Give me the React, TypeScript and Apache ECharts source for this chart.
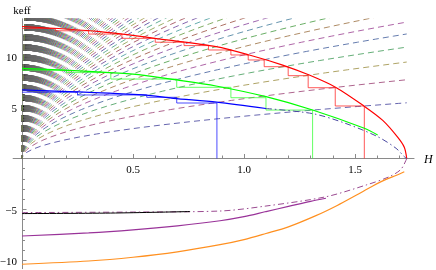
import React, { useEffect, useRef } from 'react';
import * as echarts from 'echarts';

// ---------- axes ----------
const H_MIN = -0.04;
const H_MAX = 1.766;
const K_MIN = -10.8;
const K_MAX = 13.7;
const xMajorTicks = [0.5, 1.0, 1.5];
const xMinorTicks = [0.1, 0.2, 0.3, 0.4, 0.6, 0.7, 0.8, 0.9, 1.1, 1.2, 1.3, 1.4, 1.6, 1.7];
const yMajorTicks = [-10, -5, 5, 10];
const yMinorTicks = [-9, -8, -7, -6, -4, -3, -2, -1, 1, 2, 3, 4, 6, 7, 8, 9, 11, 12, 13];

// ---------- main curves [H, keff] ----------
const redCurve = [
  [0, 12.94], [0.351, 12.44], [0.652, 11.63], [0.874, 10.97], [1.024, 10.15], [1.174, 9.16],
  [1.294, 8.18], [1.414, 6.97], [1.542, 5.12], [1.625, 3.74], [1.692, 2.1], [1.722, 1.11], [1.733, 0],
];
const greenCurve = [
  [0, 8.84], [0.5, 8.28], [0.697, 7.7], [0.874, 7.11], [1.099, 6.06], [1.309, 4.75], [1.542, 2.96], [1.602, 2.3],
];
const blueCurve = [
  [0, 6.72], [0.546, 6.23], [0.682, 5.9], [0.877, 5.52], [1.099, 4.9],
];
const navyDashDot = [
  [1.099, 4.9], [1.309, 4.4], [1.45, 3.5], [1.602, 2.14], [1.685, 1.0], [1.722, 0.18], [1.733, 0],
];
const purpleDashDot = [
  [0, -5.3], [0.5, -5.25], [0.892, -5.15], [1.099, -4.66], [1.369, -3.75], [1.55, -2.6], [1.655, -1.78],
  [1.707, -1.06], [1.733, 0],
];
const purpleCurve = [
  [0, -7.6], [0.3, -7.3], [0.5, -7.0], [0.7, -6.6], [0.892, -6.1], [1.0, -5.7], [1.099, -5.2], [1.2, -4.7],
  [1.3, -4.2], [1.369, -3.9],
];
const blackCurve = [
  [0, -5.4], [0.4, -5.35], [0.757, -5.2],
];
const orangeCurve = [
  [0, -10.37], [0.3, -10.05], [0.5, -9.68], [0.7, -9.15], [0.892, -8.45], [1.0, -7.95], [1.099, -7.35],
  [1.2, -6.7], [1.324, -5.6], [1.42, -4.6], [1.505, -3.6], [1.58, -2.7], [1.64, -2.05], [1.69, -1.62],
  [1.722, -1.3],
];

// ---------- staircases: right end H of each tread, tread height ----------
const redStepH = [0.15, 0.3, 0.45, 0.6, 0.73, 0.84, 0.941, 1.019, 1.091, 1.199, 1.289, 1.411, 1.542];
const redStepK = [12.75, 12.52, 12.2, 11.78, 11.4, 11.07, 10.64, 10.15, 9.66, 9.0, 8.12, 6.94, 5.15];
const greenStepH = [0.2, 0.4, 0.697, 0.941, 1.099, 1.309];
const greenStepK = [8.65, 8.42, 7.79, 6.98, 5.96, 4.75];
const blueStepH = [0.25, 0.562, 0.697, 0.878];
const blueStepK = [6.5, 6.23, 6.0, 5.44];

// ---------- dashed family keff = sqrt(slope * n * H), n = 1..count ----------
const familyCount = 800;
const familySlope = 17.2;   // read from right-edge ends: keff^2 ≈ 29.8 n at H = 1.733
const familyEndH = 1.733;

function hsv(h: number, s: number, v: number) {
  const i = Math.floor(h * 6);
  const f = h * 6 - i;
  const p = v * (1 - s), q = v * (1 - f * s), t = v * (1 - (1 - f) * s);
  const m = [[v, t, p], [q, v, p], [p, v, t], [p, q, v], [t, p, v], [v, p, q]][i % 6];
  return `rgb(${Math.round(m[0] * 255)},${Math.round(m[1] * 255)},${Math.round(m[2] * 255)})`;
}

function stairs(hs: number[], ks: number[]) {
  const pts: number[][] = [[0, ks[0]]];
  for (let i = 0; i < hs.length; i++) {
    pts.push([hs[i], ks[i]]);
    pts.push([hs[i], i + 1 < ks.length ? ks[i + 1] : 0]);
  }
  return pts;
}

function buildFamily() {
  const out: any[] = [];
  for (let n = 1; n <= familyCount; n++) {
    const kn = familySlope * n;
    const kEnd = Math.min(Math.sqrt(kn * familyEndH), K_MAX + 0.3);
    const data: number[][] = [];
    for (let k = 0; k < kEnd; k += 0.3) data.push([(k * k) / kn, k]);
    data.push([(kEnd * kEnd) / kn, kEnd]);
    const hue = (0.67 + (n - 1) * 0.236068) % 1;
    out.push({
      type: 'line', data, symbol: 'none', silent: true, z: 1,
      lineStyle: { color: hsv(hue, 0.6, 0.6), width: 0.8, type: [6, 4.1], dashOffset: 3 },
    });
  }
  return out;
}

const serif = 'Liberation Serif, Times New Roman, serif';
const axisGrey = '#8a8a8a';
const PX_PER_H = 222;
const GRID_LEFT = 22 + H_MIN * PX_PER_H;
const GRID_W = (H_MAX - H_MIN) * PX_PER_H;
const GRID_TOP = 18.76;
const GRID_H = 249.9;
const PX_PER_K = GRID_H / (K_MAX - K_MIN);
const X_AXIS_OFFSET = -(0 - K_MIN) * PX_PER_K;
const Y_AXIS_OFFSET = -(0 - H_MIN) * PX_PER_H;

export default function App() {
  const ref = useRef<HTMLDivElement>(null);
  useEffect(() => {
    const chart = echarts.init(ref.current!, undefined, { renderer: 'svg' });
    const solid = (data: number[][], color: string, width = 1.2, extra: any = {}, smooth = 0.3) => ({
      type: 'line', data, symbol: 'none', silent: true, z: 3, smooth,
      lineStyle: { color, width, ...extra },
    });
    const step = (data: number[][], color: string) => ({
      type: 'line', data, symbol: 'none', silent: true, z: 2,
      lineStyle: { color, width: 1, opacity: 0.75 },
    });
    const dashDot = [6, 3, 1.5, 3];
    chart.setOption({
      animation: false,
      grid: { left: GRID_LEFT, top: GRID_TOP, width: GRID_W, height: GRID_H, containLabel: false, outerBoundsMode: 'none' },
      xAxis: [
        {
          type: 'value', min: H_MIN, max: H_MAX, position: 'bottom', offset: X_AXIS_OFFSET,
          axisLine: { onZero: false, lineStyle: { color: axisGrey, width: 1 } },
          axisTick: { inside: true, length: 4.5, customValues: xMajorTicks, lineStyle: { color: axisGrey } },
          axisLabel: {
            customValues: xMajorTicks, formatter: (v: number) => v.toFixed(1), margin: 5,
            color: '#000', fontFamily: serif, fontSize: 11,
          },
          splitLine: { show: false },
          name: 'H', nameLocation: 'end', nameGap: 10,
          nameTextStyle: { fontStyle: 'italic', fontFamily: serif, fontSize: 12, color: '#000', verticalAlign: 'middle' },
        },
        {
          type: 'value', min: H_MIN, max: H_MAX, position: 'bottom', offset: X_AXIS_OFFSET,
          axisLine: { show: false, onZero: false },
          axisTick: { inside: true, length: 3, customValues: xMinorTicks, lineStyle: { color: axisGrey } },
          axisLabel: { show: false }, splitLine: { show: false },
        },
      ],
      yAxis: [
        {
          type: 'value', min: K_MIN, max: K_MAX, position: 'left', offset: Y_AXIS_OFFSET,
          axisLine: { onZero: false, lineStyle: { color: axisGrey, width: 1 } },
          axisTick: { inside: true, length: 4.5, customValues: yMajorTicks, lineStyle: { color: axisGrey } },
          axisLabel: {
            customValues: yMajorTicks, margin: 5,
            formatter: (v: number) => (v < 0 ? '\u2212' + Math.abs(v) : String(v)),
            color: '#000', fontFamily: serif, fontSize: 11,
          },
          splitLine: { show: false },
          name: 'keff', nameLocation: 'end', nameGap: 3,
          nameTextStyle: { fontFamily: serif, fontSize: 11, color: '#000' },
        },
        {
          type: 'value', min: K_MIN, max: K_MAX, position: 'left', offset: Y_AXIS_OFFSET,
          axisLine: { show: false, onZero: false },
          axisTick: { inside: true, length: 3, customValues: yMinorTicks, lineStyle: { color: axisGrey } },
          axisLabel: { show: false }, splitLine: { show: false },
        },
      ],
      series: [
        ...buildFamily(),
        step(stairs(redStepH, redStepK), '#ff2020'),
        step(stairs(greenStepH, greenStepK), '#30ff30'),
        step(stairs(blueStepH, blueStepK), '#1010ff'),
        solid(redCurve, '#ff0000', 1.2, {}, 0.3),
        solid(greenCurve, '#00ff00'),
        solid(blueCurve, '#0000ff'),
        solid(navyDashDot, '#4a48a0', 1, { type: dashDot }),
        solid(purpleDashDot, '#9a4a90', 1, { type: dashDot }),
        solid(purpleCurve, '#993399', 1.2),
        solid(blackCurve, '#000000', 1),
        solid(orangeCurve, '#ff9020', 1.2),
      ],
    });
    return () => chart.dispose();
  }, []);
  return <div ref={ref} style={{ position: 'fixed', left: 0, top: 0, width: 436, height: 270 }} />;
}
